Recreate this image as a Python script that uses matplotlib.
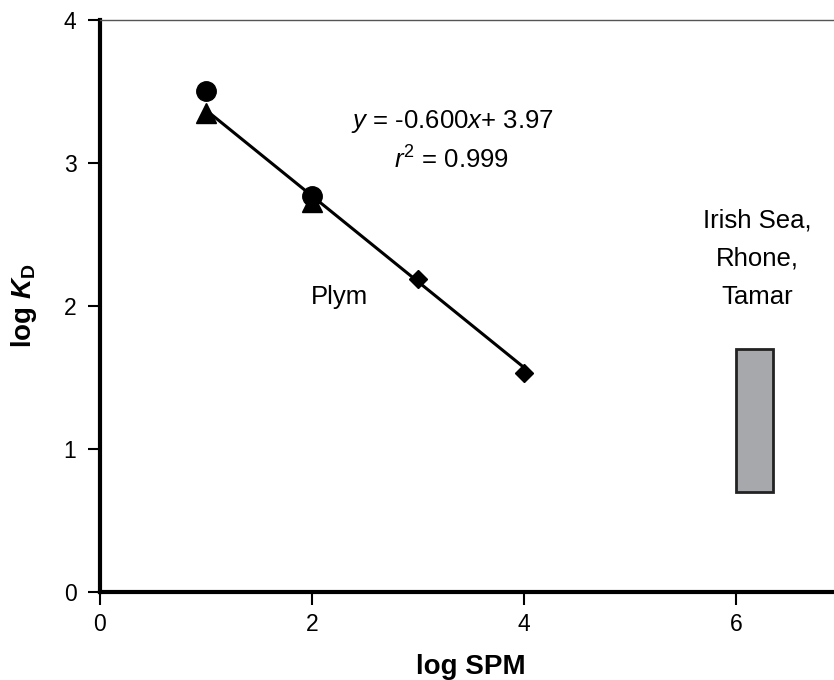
import matplotlib
matplotlib.use('Agg')
import matplotlib.pyplot as plt
from matplotlib.patches import Rectangle

plt.rcParams['font.family'] = ['Liberation Sans', 'DejaVu Sans']
plt.rcParams['mathtext.fontset'] = 'custom'
plt.rcParams['mathtext.rm'] = 'Liberation Sans'
plt.rcParams['mathtext.it'] = 'Liberation Sans:italic'
plt.rcParams['mathtext.bf'] = 'Liberation Sans:bold'
plt.rcParams['mathtext.bfit'] = 'Liberation Sans:bold:italic'

# Plym data (log SPM, log KD)
circle_x = [1, 2]
circle_y = [3.50, 2.77]
tri_x = [1, 2]
tri_y = [3.35, 2.73]
diamond_x = [3, 4]
diamond_y = [2.19, 1.53]

# regression
slope = -0.600
intercept = 3.97
fit_x = [1, 4]

# Irish Sea / Rhone / Tamar range
box_x = [6.0, 6.35]
box_y = [0.70, 1.70]

fig = plt.figure(figsize=(8.34, 6.8), dpi=100)
ax = fig.add_axes([0.1199, 0.1294, 0.8897, 0.8412])

fit_y = [slope * x + intercept for x in fit_x]
ax.plot(fit_x, fit_y, color='black', lw=2.2, zorder=2)
ax.plot(circle_x, circle_y, 'o', color='black', ms=14, zorder=3)
ax.plot(tri_x, tri_y, '^', color='black', ms=14, zorder=3)
ax.plot(diamond_x, diamond_y, 'D', color='black', ms=9.5, zorder=3)

ax.add_patch(Rectangle((box_x[0], box_y[0]), box_x[1] - box_x[0], box_y[1] - box_y[0],
                       facecolor='#a7a8ab', edgecolor='#222222', lw=2))

ax.text(3.32, 3.29, '$y$ = -0.600$x$+ 3.97', ha='center', va='center', fontsize=18.5)
ax.text(3.32, 3.02, '$r^2$ = 0.999', ha='center', va='center', fontsize=18.5)
ax.text(2.26, 2.06, 'Plym', ha='center', va='center', fontsize=18.5)
ax.text(6.2, 2.33, 'Irish Sea,\nRhone,\nTamar', ha='center', va='center',
        fontsize=18.5, linespacing=1.75)

ax.set_xlim(0, 7)
ax.set_ylim(0, 4)
ax.set_xticks([0, 2, 4, 6])
ax.set_yticks([0, 1, 2, 3, 4])
ax.tick_params(direction='out', length=9, width=1.5, labelsize=16.5)
ax.tick_params(axis='y', pad=8)
ax.tick_params(axis='x', pad=6)

ax.spines['left'].set_linewidth(3)
ax.spines['bottom'].set_linewidth(3)
ax.spines['top'].set_linewidth(1)
ax.spines['top'].set_color('#555555')
ax.spines['right'].set_visible(False)

ax.set_xlabel('log SPM', fontsize=20, fontweight='bold', labelpad=13)
ax.set_ylabel(r'log $\mathbfit{K}_\mathbf{D}$', fontsize=20, fontweight='bold', labelpad=18)

fig.savefig('out.png', dpi=100)
